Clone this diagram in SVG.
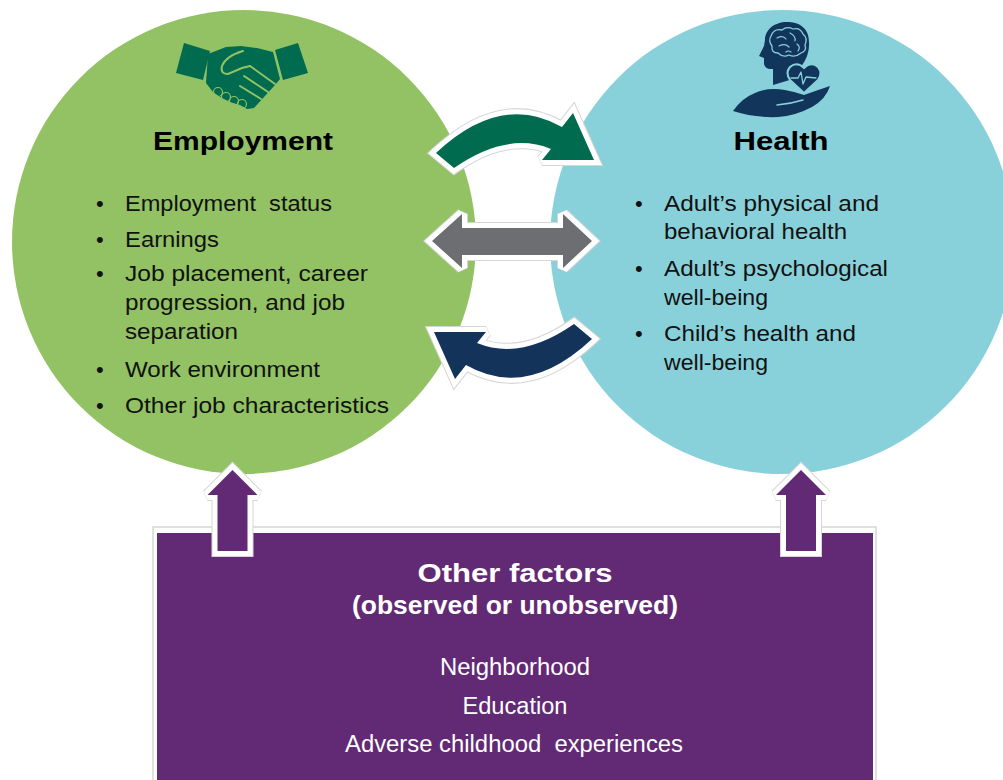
<svg xmlns="http://www.w3.org/2000/svg" width="1003" height="780" viewBox="0 0 1003 780">
<style>
.body{font-family:"Liberation Sans",Arial,sans-serif;font-size:22px;fill:#111;white-space:pre}
.title{font-family:"Liberation Sans",Arial,sans-serif;font-size:26px;font-weight:bold;fill:#000}
.ptitle{font-family:"Liberation Sans",Arial,sans-serif;font-size:25px;font-weight:bold;fill:#fff}
.pbody{font-family:"Liberation Sans",Arial,sans-serif;font-size:23px;fill:#fff;white-space:pre}
.halo{fill:none;stroke:#d6d6d6;stroke-width:12;stroke-linejoin:miter;stroke-miterlimit:2}
.white{fill:#fff;stroke:#fff;stroke-width:10;stroke-linejoin:miter;stroke-miterlimit:2}
.lt-g{fill:none;stroke:#92C263;stroke-width:2;stroke-linecap:round}
.lt-b{fill:none;stroke:#88D1DA;stroke-width:2;stroke-linecap:round;stroke-linejoin:round}
</style>
<defs>
<path id="curve" d="M436,153 Q501,92 562,127 L573,113 L594,160 L542,160 L551,149 Q507,131 454,168 Z"/>
<path id="dbl" d="M432,241 L462,214 L462,228 L563,228 L563,214 L592,241 L563,268 L563,255 L462,255 L462,268 Z"/>
<path id="up" d="M0,0 L25,25 L15,25 L15,81 L-15,81 L-15,25 L-25,25 Z"/>
</defs>
<rect width="1003" height="780" fill="#fff"/>

<g id="employment">
<circle cx="244" cy="242" r="232" fill="#92C263"/>
<g id="handshake-icon">
<polygon points="184,43 210,51 203,80 176,73" fill="#006B4F"/>
<polygon points="275,50 298,43 308,73 283,80" fill="#006B4F"/>
<path d="M208,54 L226,47 L241,46 L257,48 L273,52 L280,79 L275,85 L254,108 L247,109 L240,105 L230,102 L220,97 L213,92 L206,83 Z" fill="#006B4F"/>
<path class="lt-g" d="M243,51 Q226,56 222,66 Q220,74 228,74 L242,68 L250,66"/>
<path class="lt-g" d="M250,66 L275,84"/>
<path class="lt-g" d="M244,76 L268,92"/>
<path class="lt-g" d="M240,86 L261,99"/>
<circle cx="218" cy="92" r="4.5" fill="#006B4F" class="lt-g" style="stroke-width:1.2"/>
<circle cx="226" cy="97" r="4.5" fill="#006B4F" class="lt-g" style="stroke-width:1.2"/>
<circle cx="234" cy="101" r="4.5" fill="#006B4F" class="lt-g" style="stroke-width:1.2"/>
<circle cx="242" cy="104" r="4.5" fill="#006B4F" class="lt-g" style="stroke-width:1.2"/>
</g>
<text class="title" x="243" y="150" text-anchor="middle" textLength="180" lengthAdjust="spacingAndGlyphs">Employment</text>
<text class="body" x="96" y="211">•</text>
<text class="body" x="125" y="211" textLength="207" lengthAdjust="spacingAndGlyphs">Employment  status</text>
<text class="body" x="96" y="247">•</text>
<text class="body" x="125" y="247" textLength="94" lengthAdjust="spacingAndGlyphs">Earnings</text>
<text class="body" x="96" y="281">•</text>
<text class="body" x="125" y="281" textLength="243" lengthAdjust="spacingAndGlyphs">Job placement, career</text>
<text class="body" x="125" y="310" textLength="220" lengthAdjust="spacingAndGlyphs">progression, and job</text>
<text class="body" x="125" y="339" textLength="113" lengthAdjust="spacingAndGlyphs">separation</text>
<text class="body" x="96" y="377">•</text>
<text class="body" x="125" y="377" textLength="195" lengthAdjust="spacingAndGlyphs">Work environment</text>
<text class="body" x="96" y="413">•</text>
<text class="body" x="125" y="413" textLength="264" lengthAdjust="spacingAndGlyphs">Other job characteristics</text>
</g>

<g id="health">
<circle cx="782" cy="242" r="232" fill="#88D1DA"/>
<g id="health-icon" fill="#12355B">
<path d="M809,42 C809,27 798,22 787,22 C774,22 765,30 765,40 L764,46 L759,56 L764,58 L764,64 Q765,69 771,69 L773,69 L773,85 L793,79 L801,67 Q810,55 809,42 Z"/>
<path class="lt-b" d="M771,36 Q774,28 782,30 Q787,26 793,29 Q800,27 803,34 Q808,38 805,45 Q807,51 801,53 Q795,58 789,55 Q783,58 778,53 Q771,53 772,46 Q768,41 771,36 Z" style="stroke-width:1.3"/>
<path class="lt-b" d="M777,38 Q783,35 786,39 M790,33 Q796,36 795,41 M779,46 Q785,43 789,47 M797,44 Q801,47 798,51 M786,52 Q788,50 791,52" style="stroke-width:1.2"/>
<path d="M804,93 L790,80 Q785,73 790,67 Q797,61 804,68 Q811,61 818,67 Q823,73 818,80 Z" stroke="#88D1DA" stroke-width="2"/>
<path class="lt-b" d="M791,78 L798,78 L801,72 L803,84 L806,77 L816,78" style="stroke-width:1.3"/>
<path d="M733,111 Q742,98 755,93 Q768,87 785,90 Q796,92 804,95 Q818,90 830,86 Q826,99 812,107 Q795,116 778,117 Q755,118 733,111 Z"/>
<path class="lt-b" d="M777,105 Q790,104 803,100" style="stroke-width:1.5"/>
</g>
<text class="title" x="781" y="150" text-anchor="middle" textLength="95" lengthAdjust="spacingAndGlyphs">Health</text>
<text class="body" x="635" y="211">•</text>
<text class="body" x="664" y="211" textLength="215" lengthAdjust="spacingAndGlyphs">Adult’s physical and</text>
<text class="body" x="664" y="239" textLength="183" lengthAdjust="spacingAndGlyphs">behavioral health</text>
<text class="body" x="635" y="276">•</text>
<text class="body" x="664" y="276" textLength="224" lengthAdjust="spacingAndGlyphs">Adult’s psychological</text>
<text class="body" x="664" y="305" textLength="104" lengthAdjust="spacingAndGlyphs">well-being</text>
<text class="body" x="635" y="341">•</text>
<text class="body" x="664" y="341" textLength="192" lengthAdjust="spacingAndGlyphs">Child’s health and</text>
<text class="body" x="664" y="370" textLength="104" lengthAdjust="spacingAndGlyphs">well-being</text>
</g>

<g id="other-factors">
<rect x="153" y="527" width="723" height="270" fill="#fff" stroke="#d6d6d6" stroke-width="1.5"/>
<rect x="157" y="533" width="716" height="260" fill="#622A74"/>
<text class="ptitle" x="515" y="582" text-anchor="middle" textLength="195" lengthAdjust="spacingAndGlyphs">Other factors</text>
<text class="ptitle" x="515" y="614" text-anchor="middle" textLength="326" lengthAdjust="spacingAndGlyphs">(observed or unobserved)</text>
<text class="pbody" x="515" y="675" text-anchor="middle" textLength="150" lengthAdjust="spacingAndGlyphs">Neighborhood</text>
<text class="pbody" x="515" y="714" text-anchor="middle" textLength="105" lengthAdjust="spacingAndGlyphs">Education</text>
<text class="pbody" x="514" y="752" text-anchor="middle" textLength="338" lengthAdjust="spacingAndGlyphs">Adverse childhood  experiences</text>
</g>

<g id="connectors">
<g id="arrow-emp-to-health">
<use href="#curve" class="halo"/><use href="#curve" class="white"/><use href="#curve" fill="#006B4F"/>
</g>
<g id="arrow-bidirectional">
<use href="#dbl" class="halo"/><use href="#dbl" class="white"/><use href="#dbl" fill="#6D6E71"/>
</g>
<g id="arrow-health-to-emp" transform="rotate(180 514 246)">
<use href="#curve" class="halo"/><use href="#curve" class="white"/><use href="#curve" fill="#13335A"/>
</g>
<g id="arrow-other-to-emp" transform="translate(232.5 470)">
<use href="#up" class="halo"/><use href="#up" class="white"/><use href="#up" fill="#622A74"/>
</g>
<g id="arrow-other-to-health" transform="translate(801 470)">
<use href="#up" class="halo"/><use href="#up" class="white"/><use href="#up" fill="#622A74"/>
</g>
</g>
</svg>
